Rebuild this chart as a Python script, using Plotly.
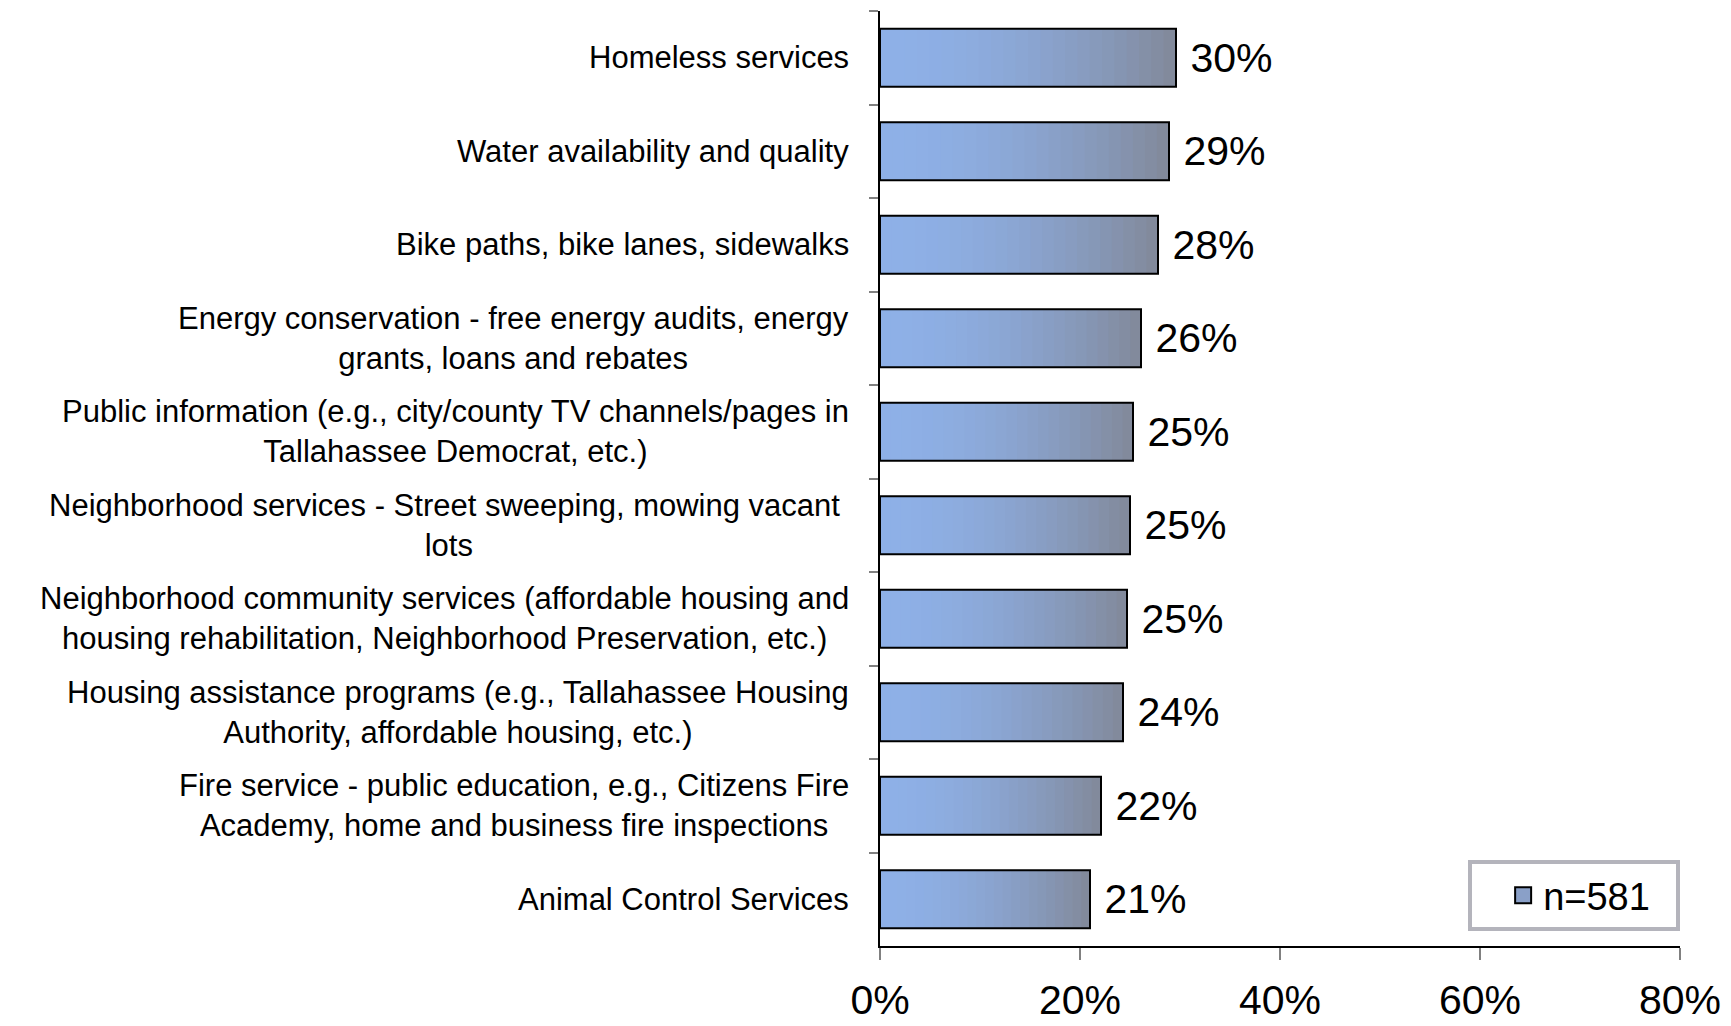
import plotly.graph_objects as go

categories = [
    "Homeless services",
    "Water availability and quality",
    "Bike paths, bike lanes, sidewalks",
    "Energy conservation - free energy audits, energy<br>grants, loans and rebates",
    "Public information (e.g., city/county TV channels/pages in<br>Tallahassee Democrat, etc.)",
    "Neighborhood services - Street sweeping, mowing vacant <br>lots",
    "Neighborhood community services (affordable housing and<br>housing rehabilitation, Neighborhood Preservation, etc.)",
    "Housing assistance programs (e.g., Tallahassee Housing<br>Authority, affordable housing, etc.)",
    "Fire service - public education, e.g., Citizens Fire<br>Academy, home and business fire inspections",
    "Animal Control Services",
]
values = [0.296, 0.289, 0.278, 0.261, 0.253, 0.250, 0.247, 0.243, 0.221, 0.210]
value_labels = ["30%", "29%", "28%", "26%", "25%", "25%", "25%", "24%", "22%", "21%"]
series_name = "n=581"
x_ticks = [0, 0.2, 0.4, 0.6, 0.8]
x_tick_labels = ["0%", "20%", "40%", "60%", "80%"]

FONT = "Arial"
keys = [f"c{i}" for i in range(len(categories))]

fig = go.Figure()

# gradient fill approximated by nested segments from blue to grey
N = 24
c0 = (142, 176, 231)
c1 = (130, 138, 156)
for i in range(N):
    t = (i / (N - 1)) ** 1.8
    col = tuple(int(round(a + (b - a) * t)) for a, b in zip(c0, c1))
    fig.add_trace(go.Bar(
        y=keys,
        x=[v - v * i / N for v in values],
        base=[v * i / N for v in values],
        orientation="h",
        width=0.62,
        marker=dict(color=f"rgb{col}", line=dict(width=0)),
        showlegend=False,
        hoverinfo="skip",
    ))

# outline + value labels
fig.add_trace(go.Bar(
    y=keys,
    x=values,
    orientation="h",
    width=0.62,
    marker=dict(color="rgba(0,0,0,0)", line=dict(color="black", width=2)),
    text=["\u00a0" + s for s in value_labels],
    textposition="outside",
    textfont=dict(family=FONT, size=41, color="black"),
    cliponaxis=False,
    showlegend=False,
    name=series_name,
))

# legend entry
fig.add_trace(go.Scatter(
    y=[None],
    x=[None],
    mode="markers",
    marker=dict(symbol="square", size=18, color="rgb(138,160,200)",
                line=dict(color="black", width=2)),
    name=series_name + "\u00a0\u00a0",
    showlegend=True,
))

for k, lab in zip(keys, categories):
    fig.add_annotation(
        x=-0.036, xref="paper", xanchor="right",
        y=k, yref="y", yanchor="middle",
        text=lab, showarrow=False, align="center",
        font=dict(family=FONT, size=31, color="black"),
    )

fig.update_layout(
    width=1715, height=1018,
    margin=dict(l=872, r=43, t=3, b=80),
    paper_bgcolor="white", plot_bgcolor="white",
    barmode="overlay",
    bargap=0.38,
    font=dict(family=FONT, color="black"),
    legend=dict(
        x=1.0, xanchor="right", y=0.016, yanchor="bottom",
        bgcolor="white", bordercolor="#B4B4BC", borderwidth=4,
        font=dict(family=FONT, size=38, color="black"),
        itemsizing="trace", itemwidth=30,
        title=dict(text="\u00a0\u00a0", side="left",
                   font=dict(family=FONT, size=38, color="black")),
    ),
    xaxis=dict(
        range=[0, 0.8], tickvals=x_ticks, ticktext=x_tick_labels,
        showgrid=False, zeroline=False, automargin=False,
        showline=True, linecolor="black", linewidth=1.5,
        ticks="outside", ticklen=12, tickcolor="#808080", tickwidth=1.5,
        tickfont=dict(family=FONT, size=41, color="black"),
        ticklabelstandoff=5,
    ),
    yaxis=dict(
        type="category",
        categoryorder="array", categoryarray=keys,
        range=[len(keys) - 0.5, -0.5], automargin=False,
        showticklabels=False, showgrid=False, zeroline=False,
        showline=True, linecolor="black", linewidth=1.5,
        ticks="outside", ticklen=9, tickcolor="#808080", tickwidth=1.5,
        tickson="boundaries",
    ),
)

fig.write_html("out.html")
